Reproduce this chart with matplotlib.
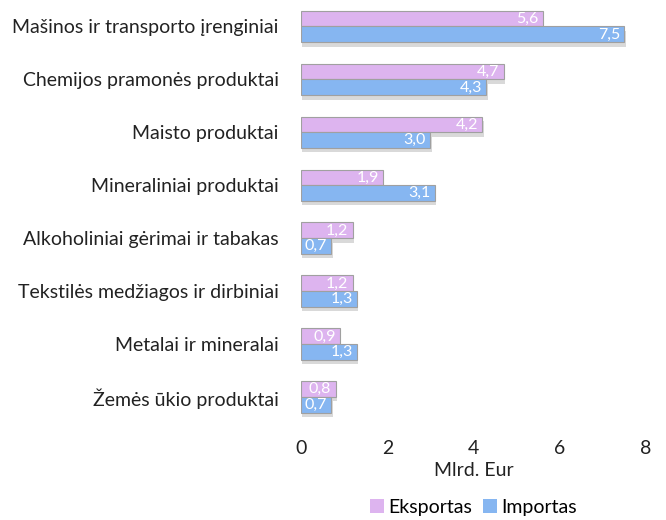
import numpy as np
import matplotlib
matplotlib.use("Agg")
import matplotlib.pyplot as plt
import matplotlib.patheffects as pe
from matplotlib.patches import Patch

plt.rcParams['font.family'] = ['Lato', 'DejaVu Sans']

categories = ['Mašinos ir transporto įrenginiai', 'Chemijos pramonės produktai',
              'Maisto produktai', 'Mineraliniai produktai',
              'Alkoholiniai gėrimai ir tabakas', 'Tekstilės medžiagos ir dirbiniai',
              'Metalai ir mineralai', 'Žemės ūkio produktai']
eksportas = [5.6, 4.7, 4.2, 1.9, 1.2, 1.2, 0.9, 0.8]
importas = [7.5, 4.3, 3.0, 3.1, 0.7, 1.3, 1.3, 0.7]

exp_color = '#DDB4EF'
imp_color = '#86B6F1'

fig = plt.figure(figsize=(6.66, 5.2), dpi=100)
ax = fig.add_axes([0.452, 0.185, 0.518, 0.815])

y = np.arange(len(categories))
h = 0.3
shadow = [pe.SimplePatchShadow(offset=(1, -3), shadow_rgbFace='#000000', alpha=0.15), pe.Normal()]

b1 = ax.barh(y - h / 2, eksportas, height=h, color=exp_color, edgecolor='#a0a0a0',
             linewidth=0.8, path_effects=shadow)
b2 = ax.barh(y + h / 2, importas, height=h, color=imp_color, edgecolor='#a0a0a0',
             linewidth=0.8, path_effects=shadow)

for bars, vals in ((b1, eksportas), (b2, importas)):
    for bar, v in zip(bars, vals):
        ax.text(bar.get_width() - 0.1, bar.get_y() + bar.get_height() / 2,
                f'{v:.1f}'.replace('.', ','), ha='right', va='center',
                color='white', fontsize=11.5)

ax.set_ylim(len(categories) - 0.5, -0.5)
ax.set_xlim(0, 8)
ax.set_xticks([0, 2, 4, 6, 8])
ax.set_yticks(y)
ax.set_yticklabels(categories, fontsize=14, color='#222222')
ax.tick_params(axis='y', length=0, pad=16)
ax.tick_params(axis='x', length=0, labelsize=14, colors='#222222', pad=12)
for s in ax.spines.values():
    s.set_visible(False)
ax.set_xlabel('Mlrd. Eur', fontsize=14, color='#222222', labelpad=3)

handles = [Patch(facecolor=exp_color, label='Eksportas'),
           Patch(facecolor=imp_color, label='Importas')]
ax.legend(handles=handles, loc='upper center', bbox_to_anchor=(0.5, -0.135), ncol=2,
          frameon=False, fontsize=14, handlelength=0.7, handleheight=0.7,
          handletextpad=0.2, columnspacing=0.6)

plt.savefig('out.png', dpi=100)
